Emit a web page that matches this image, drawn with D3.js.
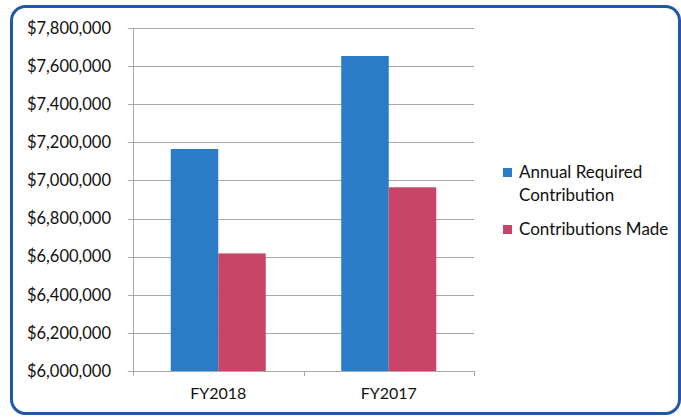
<!DOCTYPE html>
<html><head><meta charset="utf-8">
<script src="https://cdn.jsdelivr.net/npm/d3@7"></script>
<style>body{margin:0;background:#fff}svg{display:block}</style>
</head><body>
<script>
const categories = ["FY2018", "FY2017"];
const seriesNames = ["Annual Required Contribution", "Contributions Made"];
const annualRequired = [7165000, 7653000];
const contributionsMade = [6617000, 6964000];
const yTicks = [6000000, 6200000, 6400000, 6600000, 6800000, 7000000, 7200000, 7400000, 7600000, 7800000];
const colors = ["#2a7cc6", "#c94568"];

const W = 681, H = 418;
const svg = d3.select("body").append("svg").attr("width", W).attr("height", H);
svg.append("rect").attr("x", 11.5).attr("y", 6.5).attr("width", 668).attr("height", 407)
  .attr("rx", 14).attr("fill", "#fff").attr("stroke", "#2059a8").attr("stroke-width", 3);

const m = {left: 133, right: 474, top: 28, bottom: 371};
const x = d3.scaleBand().domain(categories).range([m.left, m.right]).paddingInner(0).paddingOuter(0);
const y = d3.scaleLinear().domain([6000000, 7800000]).range([m.bottom, m.top]);
const fmt = d3.format("$,");

const g = svg.append("g").style("font-family", "Lato, 'Open Sans', sans-serif");
g.selectAll("line.grid").data(yTicks).join("line")
  .attr("x1", m.left - 5).attr("x2", m.right)
  .attr("y1", d => Math.round(y(d)) + 0.5).attr("y2", d => Math.round(y(d)) + 0.5)
  .attr("stroke", "#a8a8a8").attr("stroke-width", 1);
g.append("line").attr("x1", m.left + 0.5).attr("x2", m.left + 0.5).attr("y1", m.top).attr("y2", m.bottom)
  .attr("stroke", "#a8a8a8");
const xt = [m.left, m.left + x.bandwidth(), m.right];
g.selectAll("line.xt").data(xt).join("line")
  .attr("x1", d => Math.round(d) + 0.5).attr("x2", d => Math.round(d) + 0.5)
  .attr("y1", m.bottom).attr("y2", m.bottom + 5).attr("stroke", "#a8a8a8");
g.selectAll("text.yl").data(yTicks).join("text")
  .attr("x", 111).attr("y", d => y(d)).attr("dy", "0.35em")
  .attr("text-anchor", "end").attr("font-size", 16.5).attr("fill", "#111")
  .text(d => fmt(d));
g.selectAll("text.xl").data(categories).join("text")
  .attr("x", d => x(d) + x.bandwidth() / 2).attr("y", 399)
  .attr("text-anchor", "middle").attr("font-size", 16).attr("fill", "#111")
  .text(d => d);
const barW = 47.5;
const series = [annualRequired, contributionsMade];
series.forEach((vals, si) => {
  g.selectAll("rect.s" + si).data(categories).join("rect")
    .attr("x", (d) => x(d) + x.bandwidth() / 2 - barW + si * barW)
    .attr("y", (d, i) => y(vals[i]))
    .attr("width", barW)
    .attr("height", (d, i) => y(6000000) - y(vals[i]))
    .attr("fill", colors[si]);
});
g.append("line").attr("x1", m.left).attr("x2", m.right).attr("y1", m.bottom + 0.5).attr("y2", m.bottom + 0.5)
  .attr("stroke", "#a8a8a8");
const leg = [
  {lines: ["Annual Required", "Contribution"], y: 168, c: colors[0]},
  {lines: ["Contributions Made"], y: 225, c: colors[1]}
];
leg.forEach(l => {
  g.append("rect").attr("x", 503).attr("y", l.y).attr("width", 9).attr("height", 9).attr("fill", l.c);
  l.lines.forEach((t, i) => {
    g.append("text").attr("x", 519).attr("y", l.y + 10 + i * 22.5)
      .attr("font-size", 17).attr("fill", "#111").text(t);
  });
});
</script>
</body></html>
